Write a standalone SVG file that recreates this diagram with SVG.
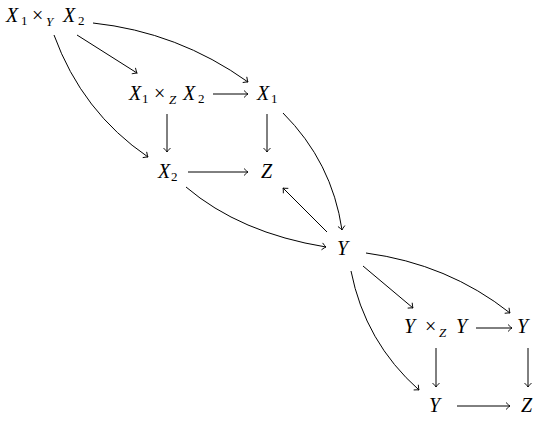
<svg xmlns="http://www.w3.org/2000/svg" width="540" height="423" viewBox="0 0 540 423">
<defs>
<marker id="to" viewBox="-6 -5 8 10" markerWidth="8" markerHeight="10" refX="0" refY="0" orient="auto" markerUnits="userSpaceOnUse">
<path d="M -4,-3.5 Q -1.2,-0.6 0,0 Q -1.2,0.6 -4,3.5" fill="none" stroke="#000" stroke-width="0.9"/>
</marker>
</defs>
<style>
.t{font-family:'Liberation Serif',serif;font-size:20px;fill:#000}
.i{font-style:italic}
.s{font-size:13px}
.c path{fill:none;stroke:#000;stroke-width:1;marker-end:url(#to)}
</style>
<rect width="540" height="423" fill="#fff"/>
<g font-family="Liberation Serif, serif">
<g id="n-x1yx2"><text class="t"><tspan class="i" x="6" y="22">X</tspan><tspan class="s" x="21" y="25">1</tspan><tspan x="32" y="22">×</tspan><tspan class="s i" x="46" y="26">Y</tspan><tspan class="i" x="63" y="22">X</tspan><tspan class="s" x="78" y="25">2</tspan></text></g>
<g id="n-x1zx2"><text class="t"><tspan class="i" x="129" y="100">X</tspan><tspan class="s" x="142" y="103">1</tspan><tspan x="154" y="100">×</tspan><tspan class="s i" x="169" y="104">Z</tspan><tspan class="i" x="183" y="100">X</tspan><tspan class="s" x="198" y="103">2</tspan></text></g>
<g id="n-x1"><text class="t"><tspan class="i" x="257" y="100">X</tspan><tspan class="s" x="271" y="103">1</tspan></text></g>
<g id="n-x2"><text class="t"><tspan class="i" x="158" y="178">X</tspan><tspan class="s" x="171" y="181">2</tspan></text></g>
<g id="n-z1"><text class="t i" x="261" y="178">Z</text></g>
<g id="n-y"><text class="t i" x="337" y="255">Y</text></g>
<g id="n-yzy"><text class="t"><tspan class="i" x="404" y="333">Y</tspan><tspan x="425" y="333">×</tspan><tspan class="s i" x="439" y="337">Z</tspan><tspan class="i" x="456" y="333">Y</tspan></text></g>
<g id="n-y2"><text class="t i" x="517" y="333">Y</text></g>
<g id="n-y3"><text class="t i" x="429" y="412">Y</text></g>
<g id="n-z2"><text class="t i" x="521" y="412">Z</text></g>
</g>
<g id="connectors" class="c">
<path d="M93,23 Q178,32 248,82"/>
<path d="M77,35 L137,73"/>
<path d="M54,35 Q82,112 148,157"/>
<path d="M213,94 L248,94"/>
<path d="M167,114 L167,152"/>
<path d="M267,114 L267,152"/>
<path d="M188,172 L248,172"/>
<path d="M283,113 Q332,162 342,230"/>
<path d="M186,187 Q240,233 326,247"/>
<path d="M327,232 L283,188"/>
<path d="M366,253 Q448,264 510,313"/>
<path d="M363,266 L413,308"/>
<path d="M351,271 Q365,342 419,390"/>
<path d="M476,328 L512,328"/>
<path d="M436,348 L436,387"/>
<path d="M528,348 L528,387"/>
<path d="M457,406 L510,406"/>
</g>
</svg>
